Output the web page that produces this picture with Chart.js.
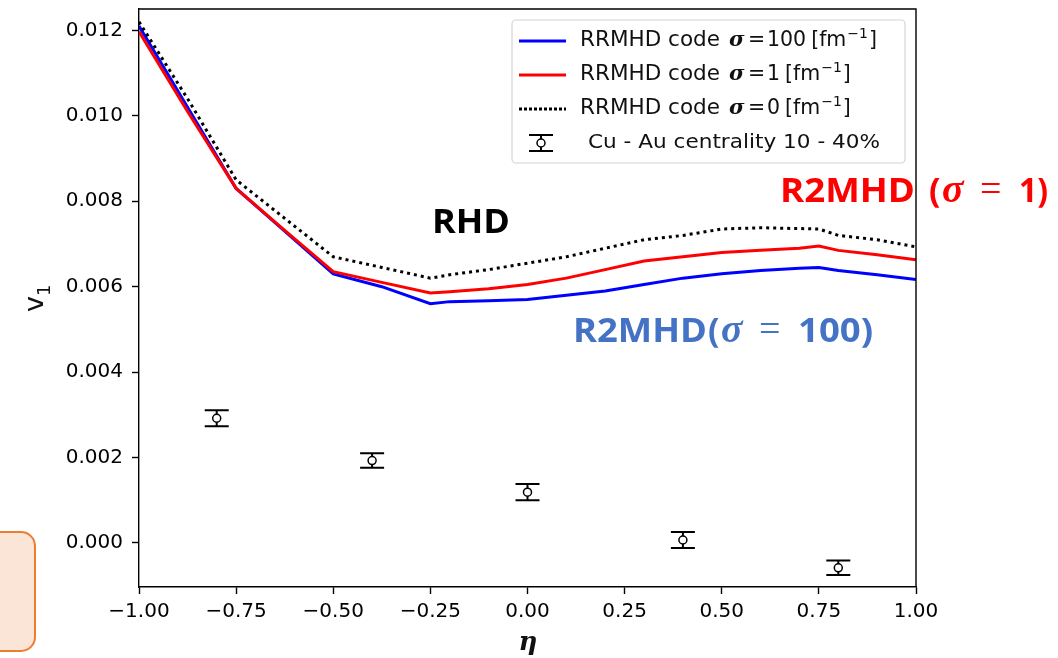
<!DOCTYPE html>
<html>
<head>
<meta charset="utf-8">
<script src="https://cdn.jsdelivr.net/npm/chart.js@4.4.1/dist/chart.umd.min.js"></script>
<style>
  html, body { margin: 0; padding: 0; background: #fff; }
  #wrap { position: relative; width: 1058px; height: 658px; }
</style>
</head>
<body>
<div id="wrap"><canvas id="v1chart" width="1058" height="658"></canvas></div>
<script>
// pseudorapidity grid of the model curves
const eta = [-1, -0.875, -0.75, -0.625, -0.5, -0.375, -0.25, -0.2, -0.1, 0, 0.1, 0.2, 0.3, 0.4, 0.5, 0.6, 0.7, 0.75, 0.8, 0.9, 1];

// directed flow v1 from the RRMHD code
const v1Sigma100 = [0.0121, 0.0102, 0.0083, 0.0073, 0.0063, 0.0060, 0.0056, 0.00565, 0.00567, 0.0057, 0.0058, 0.0059, 0.00605, 0.0062, 0.0063, 0.00638, 0.00643, 0.00645, 0.00638, 0.00628, 0.00617];
const v1Sigma1   = [0.01197, 0.0101, 0.0083, 0.00732, 0.00635, 0.0061, 0.00585, 0.00588, 0.00595, 0.00605, 0.0062, 0.0064, 0.0066, 0.0067, 0.0068, 0.00685, 0.0069, 0.00695, 0.00685, 0.00675, 0.00663];
const v1Sigma0   = [0.0122, 0.0104, 0.0085, 0.0076, 0.0067, 0.00645, 0.0062, 0.00628, 0.0064, 0.00655, 0.0067, 0.0069, 0.0071, 0.0072, 0.00735, 0.00738, 0.00736, 0.00735, 0.0072, 0.0071, 0.00693];

// Cu-Au data, centrality 10-40%
const expEta = [-0.8, -0.4, 0, 0.4, 0.8];
const expV1  = [0.00292, 0.00193, 0.00119, 0.00007, -0.00058];
const expErr = [0.00019, 0.00017, 0.00019, 0.00019, 0.00017];

const xTicks = [-1, -0.75, -0.5, -0.25, 0, 0.25, 0.5, 0.75, 1];
const yTicks = [0, 0.002, 0.004, 0.006, 0.008, 0.010, 0.012];

const legendLabels = ['100', '1', '0'];
const legendData = 'Cu - Au centrality 10 - 40%';

const BLUE = '#0000ff';
const RED = '#ff0000';
const BLACK = '#000000';

const pts = (xs, ys) => xs.map((x, i) => ({ x: x, y: ys[i] }));
const fmtMinus = (s) => s.replace('-', '\u2212');

// error bars under the open circles
const errorBars = {
  id: 'errorBars',
  beforeDatasetsDraw(chart) {
    const { ctx, scales: { x, y } } = chart;
    ctx.save();
    ctx.strokeStyle = BLACK;
    ctx.lineWidth = 2;
    expEta.forEach((e, i) => {
      const px = x.getPixelForValue(e);
      const top = y.getPixelForValue(expV1[i] + expErr[i]);
      const bot = y.getPixelForValue(expV1[i] - expErr[i]);
      ctx.beginPath();
      ctx.moveTo(px, top); ctx.lineTo(px, bot);
      ctx.moveTo(px - 12, top); ctx.lineTo(px + 12, top);
      ctx.moveTo(px - 12, bot); ctx.lineTo(px + 12, bot);
      ctx.stroke();
    });
    ctx.restore();
  }
};

function drawFit(ctx, text, x, base, width) {
  const w = ctx.measureText(text).width;
  ctx.save();
  ctx.translate(x, base);
  ctx.scale(width / w, 1);
  ctx.fillText(text, 0, 0);
  ctx.restore();
}

// "(σ = n)" drawn like the slide's equation object
function drawSigma(ctx, x, base, num, end) {
  ctx.font = 'bold 34px "Open Sans"';
  ctx.fillText('(', x, base);
  ctx.font = 'italic bold 40px "Liberation Serif"';
  ctx.fillText('\u03c3', x + 13, base);
  ctx.font = '38px "Liberation Serif"';
  ctx.fillText('=', x + 51, base - 1);
  ctx.font = 'bold 34px "Open Sans"';
  drawFit(ctx, num + ')', x + 90, base, end - x - 90);
}

// frame, legend, axis titles and slide annotations
const decorations = {
  id: 'decorations',
  afterDraw(chart) {
    const { ctx, chartArea: a } = chart;
    ctx.save();

    // top and right spines
    ctx.strokeStyle = BLACK;
    ctx.lineWidth = 1.4;
    ctx.beginPath();
    ctx.moveTo(a.left, a.top); ctx.lineTo(a.right, a.top); ctx.lineTo(a.right, a.bottom);
    ctx.stroke();

    // legend box
    ctx.fillStyle = 'rgba(255,255,255,0.85)';
    ctx.strokeStyle = '#d4d4d4';
    ctx.lineWidth = 1.2;
    ctx.beginPath();
    ctx.roundRect(512, 20, 393, 143, 4);
    ctx.fill(); ctx.stroke();

    const rows = [41, 75, 109];
    const cols = [BLUE, RED, BLACK];
    rows.forEach((ry, i) => {
      ctx.strokeStyle = cols[i];
      ctx.lineWidth = 3;
      ctx.setLineDash(i === 2 ? [3, 2] : []);
      ctx.beginPath(); ctx.moveTo(519, ry); ctx.lineTo(566, ry); ctx.stroke();
      ctx.setLineDash([]);
      ctx.fillStyle = '#111';
      ctx.textBaseline = 'middle';
      ctx.textAlign = 'left';
      ctx.font = '20.5px "DejaVu Sans"';
      drawFit(ctx, 'RRMHD code', 580, ry, 140);
      ctx.font = 'italic bold 21px "DejaVu Serif"';
      ctx.fillText('\u03c3', 729, ry);
      ctx.font = '20.5px "DejaVu Sans"';
      ctx.fillText('=', 748, ry);
      let tx = 767;
      ctx.fillText(legendLabels[i], tx, ry);
      tx += ctx.measureText(legendLabels[i]).width + 5;
      ctx.fillText('[fm', tx, ry);
      tx += ctx.measureText('[fm').width;
      ctx.font = '14px "DejaVu Sans"';
      ctx.fillText('\u22121', tx + 1, ry - 7);
      tx += ctx.measureText('\u22121').width + 2;
      ctx.font = '20.5px "DejaVu Sans"';
      ctx.fillText(']', tx, ry);
    });
    // data marker in legend
    const ly = 143;
    ctx.strokeStyle = BLACK;
    ctx.lineWidth = 2;
    ctx.beginPath();
    ctx.moveTo(541, ly - 8); ctx.lineTo(541, ly + 8);
    ctx.moveTo(529, ly - 8); ctx.lineTo(553, ly - 8);
    ctx.moveTo(529, ly + 8); ctx.lineTo(553, ly + 8);
    ctx.stroke();
    ctx.fillStyle = '#fff';
    ctx.lineWidth = 1.5;
    ctx.beginPath(); ctx.arc(541, ly, 4, 0, Math.PI * 2); ctx.fill(); ctx.stroke();
    ctx.fillStyle = '#111';
    ctx.font = '20px "DejaVu Sans"';
    drawFit(ctx, legendData, 588, ly, 292);

    // axis titles
    ctx.fillStyle = '#111';
    ctx.save();
    ctx.translate(43, 312);
    ctx.rotate(-Math.PI / 2);
    ctx.textAlign = 'left';
    ctx.textBaseline = 'alphabetic';
    ctx.font = '27px "DejaVu Sans"';
    ctx.fillText('v', 0, 0);
    ctx.font = '18px "DejaVu Sans"';
    ctx.fillText('1', 16, 7);
    ctx.restore();
    ctx.font = 'italic bold 26px "DejaVu Serif"';
    ctx.textAlign = 'center';
    ctx.textBaseline = 'alphabetic';
    ctx.fillText('\u03b7', 528, 650);

    // slide annotations
    ctx.textAlign = 'left';
    ctx.textBaseline = 'alphabetic';
    ctx.fillStyle = BLACK;
    ctx.font = 'bold 34px "Open Sans"';
    drawFit(ctx, 'RHD', 432, 233, 78);

    ctx.fillStyle = RED;
    ctx.font = 'bold 34px "Open Sans"';
    drawFit(ctx, 'R2MHD', 780, 202, 135);
    drawSigma(ctx, 929, 202, '1', 1048);

    ctx.fillStyle = '#4472c4';
    ctx.font = 'bold 34px "Open Sans"';
    drawFit(ctx, 'R2MHD', 573, 342, 134);
    drawSigma(ctx, 708, 342, '100', 873);

    // orange note box at the lower left
    ctx.fillStyle = '#fbe5d6';
    ctx.strokeStyle = '#ed7d31';
    ctx.lineWidth = 2;
    ctx.beginPath();
    ctx.roundRect(-20, 532, 55, 119, 14);
    ctx.fill(); ctx.stroke();

    ctx.restore();
  }
};

const data = {
  datasets: [
    {
      label: 'RRMHD code sigma=100',
      data: pts(eta, v1Sigma100),
      showLine: true,
      borderColor: BLUE,
      backgroundColor: BLUE,
      borderWidth: 3,
      pointRadius: 0,
      order: 3
    },
    {
      label: 'RRMHD code sigma=1',
      data: pts(eta, v1Sigma1),
      showLine: true,
      borderColor: RED,
      backgroundColor: RED,
      borderWidth: 3,
      pointRadius: 0,
      order: 2
    },
    {
      label: 'RRMHD code sigma=0',
      data: pts(eta, v1Sigma0),
      showLine: true,
      borderColor: BLACK,
      backgroundColor: BLACK,
      borderWidth: 3,
      borderDash: [3, 4],
      pointRadius: 0,
      order: 1
    },
    {
      label: legendData,
      data: pts(expEta, expV1),
      showLine: false,
      pointStyle: 'circle',
      pointRadius: 4,
      pointBorderWidth: 1.5,
      pointBorderColor: BLACK,
      pointBackgroundColor: '#fff',
      order: 0
    }
  ]
};

const config = {
  type: 'scatter',
  data,
  options: {
    responsive: false,
    animation: false,
    layout: { autoPadding: false, padding: { left: 0, top: 9, right: 142, bottom: 0 } },
    plugins: {
      legend: { display: false },
      tooltip: { enabled: false }
    },
    scales: {
      x: {
        type: 'linear',
        min: -1,
        max: 1,
        afterBuildTicks: (s) => { s.ticks = xTicks.map(v => ({ value: v })); },
        afterFit: (s) => { s.height = 71; s.paddingLeft = 0; s.paddingRight = 0; },
        grid: { drawOnChartArea: false, drawTicks: true, tickLength: 7, tickWidth: 1.4, tickColor: BLACK },
        border: { display: true, color: BLACK, width: 1.4 },
        ticks: {
          padding: 6,
          maxRotation: 0,
          color: '#000',
          font: { family: 'DejaVu Sans', size: 20 },
          callback: (v) => fmtMinus(Number(v).toFixed(2))
        }
      },
      y: {
        type: 'linear',
        min: -0.00103,
        max: 0.0125,
        afterBuildTicks: (s) => { s.ticks = yTicks.map(v => ({ value: v })); },
        afterFit: (s) => { s.width = 139; s.paddingTop = 0; s.paddingBottom = 0; },
        grid: { drawOnChartArea: false, drawTicks: true, tickLength: 7, tickWidth: 1.4, tickColor: BLACK },
        border: { display: true, color: BLACK, width: 1.4 },
        ticks: {
          padding: 9,
          color: '#000',
          font: { family: 'DejaVu Sans', size: 20 },
          callback: (v) => Number(v).toFixed(3)
        }
      }
    }
  },
  plugins: [errorBars, decorations]
};

var v1Chart = new Chart(document.getElementById('v1chart').getContext('2d'), config);
</script>
</body>
</html>
